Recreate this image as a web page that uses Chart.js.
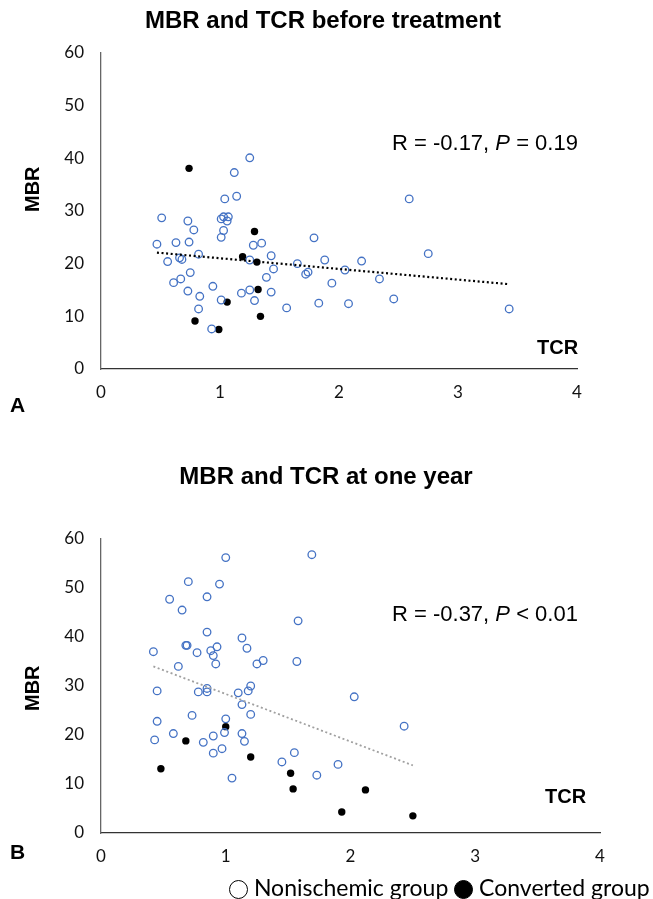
<!DOCTYPE html>
<html>
<head>
<meta charset="utf-8">
<script src="https://cdn.jsdelivr.net/npm/chart.js@4.4.1/dist/chart.umd.min.js"></script>
<style>
  body { margin: 0; background: #fff; width: 653px; height: 899px; position: relative; overflow: hidden; }
  canvas { position: absolute; left: 0; }
  .txt { position: absolute; white-space: nowrap; color: #000; font-family: "Liberation Sans", Arial, sans-serif; }
  .title { font-weight: bold; font-size: 24px; transform: translateX(-50%); }
  .axt { font-weight: bold; font-size: 20px; }
  .panel { font-weight: bold; font-size: 21px; }
  .stat { font-size: 22px; }
  .legend { font-family: Lato, "Open Sans", sans-serif; font-size: 23px; }
  .dot { display: inline-block; width: 19px; height: 19px; border-radius: 50%; border: 1px solid #000; vertical-align: -3px; box-sizing: border-box; }
</style>
</head>
<body>
<canvas id="chartA" width="653" height="410" style="top:0"></canvas>
<canvas id="chartB" width="653" height="459" style="top:440px"></canvas>

<div class="txt title" style="left:323px; top:6px;">MBR and TCR before treatment</div>
<div class="txt axt" style="left:21px; top:212px; transform: rotate(-90deg); transform-origin: left top;">MBR</div>
<div class="txt axt" style="left:537px; top:336px;">TCR</div>
<div class="txt stat" style="left:392px; top:130px;">R = -0.17, <i>P</i> = 0.19</div>
<div class="txt panel" style="left:10px; top:393px;">A</div>

<div class="txt title" style="left:326px; top:462px;">MBR and TCR at one year</div>
<div class="txt axt" style="left:21px; top:711px; transform: rotate(-90deg); transform-origin: left top;">MBR</div>
<div class="txt axt" style="left:545px; top:785px;">TCR</div>
<div class="txt stat" style="left:392px; top:601px;">R = -0.37, <i>P</i> &lt; 0.01</div>
<div class="txt panel" style="left:10px; top:840px;">B</div>

<div class="txt legend" style="left:229px; top:873px;"><span class="dot"></span> Nonischemic group <span class="dot" style="background:#000"></span> Converted group</div>

<script>
// axis ticks
const tcrTicks = [0, 1, 2, 3, 4];
const mbrTicks = [0, 10, 20, 30, 40, 50, 60];

// A: before treatment
const nonA_tcr = [1.25,1.12,1.04,1.14,0.51,0.73,1.01,1.03,1.07,1.06,0.78,1.03,1.01,0.47,0.63,0.74,1.28,1.35,0.82,1.43,0.56,0.66,0.68,1.25,1.45,0.75,1.39,0.67,0.61,0.94,0.73,1.18,1.25,1.43,0.83,1.01,1.29,1.56,0.82,0.93,2.59,1.79,1.88,2.19,2.75,1.65,1.72,1.74,2.05,1.94,2.34,1.83,2.08,2.46,3.43];
const nonA_mbr = [40.1,37.3,32.3,32.8,28.7,28.1,28.5,28.9,28.9,28.1,26.4,26.3,25.0,23.7,24.0,24.1,23.5,23.9,21.8,21.5,20.4,21.1,20.8,20.7,19.0,18.3,17.4,17.1,16.4,15.7,14.8,14.4,15.0,14.6,13.8,13.1,13.0,11.6,11.4,7.6,32.3,24.9,20.7,20.5,21.9,20.0,18.0,18.4,18.8,16.3,17.1,12.5,12.4,13.3,11.4];
const convA_tcr = [0.74,1.29,1.19,1.31,1.32,1.06,0.79,1.34,0.99];
const convA_mbr = [38.1,26.1,21.3,20.3,15.1,12.7,9.1,10.0,7.5];
const trendA_tcr = [0.47, 3.43];
const trendA_mbr = [22.1, 16.1];

// B: at one year
const nonB_tcr = [0.42,0.45,0.45,0.43,0.55,0.58,0.62,0.65,0.68,0.69,0.7,0.73,0.77,0.78,0.82,0.85,0.85,0.85,0.85,0.88,0.9,0.92,0.93,0.9,0.9,0.95,0.97,0.99,1.0,1.0,1.05,1.1,1.13,1.13,1.13,1.15,1.17,1.18,1.2,1.2,1.25,1.3,1.45,1.55,1.57,1.58,1.69,1.73,1.9,2.03,2.43];
const nonB_mbr = [37,29,22.8,19,47.7,20.3,34,45.5,38.3,38.3,51.3,24,36.8,28.8,18.5,41,29.5,28.8,48.2,37.2,36.2,34.5,38,16.3,19.8,50.8,17.2,20.5,56.2,23.3,11.2,28.6,39.8,26.2,20.3,18.7,37.7,29,24.2,30,34.5,35.2,14.5,16.4,35,43.3,56.8,11.8,14,27.8,21.8];
const convB_tcr = [0.48,0.68,1.0,1.2,1.52,1.54,1.93,2.12,2.5];
const convB_mbr = [13.1,18.8,21.7,15.5,12.2,9.0,4.3,8.8,3.5];
const trendB_tcr = [0.42, 2.5];
const trendB_mbr = [34.0, 13.8];

const pts = (xs, ys) => xs.map((x, i) => ({ x: x, y: ys[i] }));

function makeChart(id, non, conv, trend, trendColor, box) {
  new Chart(document.getElementById(id), {
    type: 'scatter',
    data: {
      datasets: [
        {
          data: pts(trend[0], trend[1]),
          showLine: true,
          borderColor: trendColor,
          borderWidth: box.tw,
          borderDash: [2, 2.6],
          pointRadius: 0,
          fill: false
        },
        {
          data: pts(non[0], non[1]),
          pointRadius: 3.8,
          pointBorderWidth: 1.3,
          pointBorderColor: '#4472c4',
          pointBackgroundColor: 'rgba(255,255,255,0)'
        },
        {
          data: pts(conv[0], conv[1]),
          pointRadius: 3.7,
          pointBorderWidth: 0,
          pointBackgroundColor: '#000',
          pointBorderColor: '#000'
        }
      ]
    },
    options: {
      responsive: false,
      animation: false,
      layout: { padding: { left: 0, top: box.top, right: box.right, bottom: 0 } },
      plugins: { legend: { display: false }, tooltip: { enabled: false } },
      scales: {
        x: {
          type: 'linear',
          min: 0, max: 4,
          afterBuildTicks: s => { s.ticks = tcrTicks.map(v => ({ value: v })); },
          afterFit: s => { s.height = box.xh; },
          grid: { display: false, drawTicks: false },
          border: { display: true, color: '#333', width: 1.3 },
          ticks: { color: '#111', padding: 13, font: { family: 'Lato', size: 17 } }
        },
        y: {
          type: 'linear',
          min: 0, max: 60,
          afterBuildTicks: s => { s.ticks = mbrTicks.map(v => ({ value: v })); },
          afterFit: s => { s.width = 101; },
          grid: { display: false, drawTicks: false },
          border: { display: true, color: '#666', width: 1.3 },
          ticks: { color: '#111', padding: 17, font: { family: 'Lato', size: 17 } }
        }
      }
    }
  });
}

makeChart('chartA', [nonA_tcr, nonA_mbr], [convA_tcr, convA_mbr], [trendA_tcr, trendA_mbr], '#000',
  { top: 53, right: 76, xh: 41, tw: 2.2 });
makeChart('chartB', [nonB_tcr, nonB_mbr], [convB_tcr, convB_mbr], [trendB_tcr, trendB_mbr], '#a0a0a0',
  { top: 99, right: 53, xh: 66, tw: 1.8 });
</script>
</body>
</html>
